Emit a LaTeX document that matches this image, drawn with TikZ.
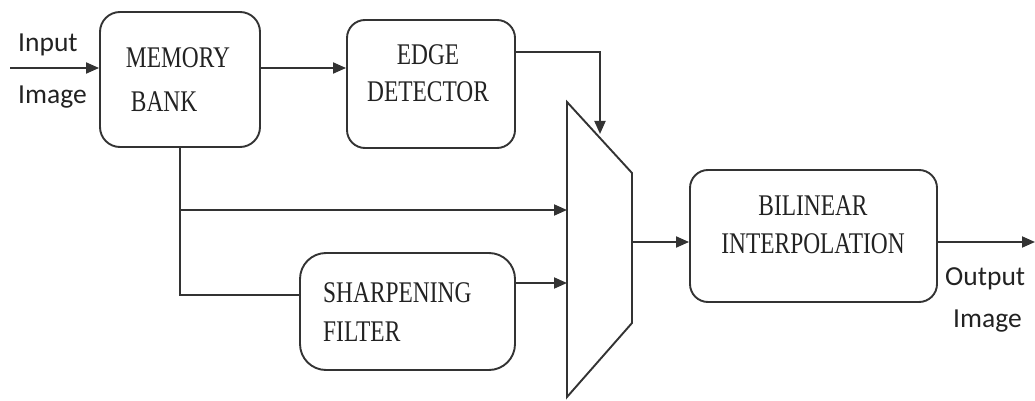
\documentclass[tikz,border=0pt]{standalone}
\usepackage{fontspec}
\setmainfont{Liberation Serif}
\newfontfamily\boxfont[FakeStretch=0.78]{Liberation Serif}
\newfontfamily\labfont{Carlito}
\usetikzlibrary{arrows.meta}
\definecolor{ln}{HTML}{333333}
\definecolor{tx}{HTML}{222222}
\tikzset{
  blk/.style={draw=ln, line width=1.9pt, rounded corners=20pt, inner sep=0pt},
  btext/.style={inner sep=0pt, text=tx, font=\boxfont\fontsize{30}{38}\selectfont},
  lab/.style={inner sep=0pt, text=tx, font=\labfont\fontsize{27.5}{33}\selectfont},
  wire/.style={draw=ln, line width=1.9pt},
  arr/.style={wire, -{Triangle[length=13pt,width=11pt]}}
}
\begin{document}
\begin{tikzpicture}[x=1pt,y=-1pt]
\useasboundingbox (0,0) rectangle (1035,401);
% boxes
\node[blk, minimum width=160pt, minimum height=135pt] (mem) at (180,79.5) {};
\node[blk, minimum width=168pt, minimum height=128pt, rounded corners=18pt] (edge) at (431,84) {};
\node[blk, minimum width=215pt, minimum height=117pt, rounded corners=26pt] (sharp) at (407.5,311.5) {};
\node[blk, minimum width=247pt, minimum height=132pt, rounded corners=18pt] (bil) at (813.5,236) {};
% box texts
\node[btext, align=left, font=\boxfont\fontsize{30}{44}\selectfont] (memt) at (178,79.5) {MEMORY\\\hspace{5pt}BANK};
\node[btext, align=center, font=\boxfont\fontsize{30}{37}\selectfont] (edget) at (428,73.5) {EDGE\\DETECTOR};
\node[btext, align=center] (bilt) at (813,225) {BILINEAR\\INTERPOLATION};
\node[btext, align=left, anchor=west, font=\boxfont\fontsize{30}{39}\selectfont] (sharpt) at (323,312) {SHARPENING\\FILTER};
% multiplexer
\coordinate (mA) at (567,102);
\coordinate (mB) at (632,173);
\coordinate (mC) at (632,323);
\coordinate (mD) at (567,397);
\draw[wire, line join=miter] (mA) -- (mB) -- (mC) -- (mD) -- cycle;
\coordinate (mux1) at (600,134);
% labels
\node[lab, anchor=base west] (inl) at (18,52) {Input};
\node[lab, anchor=base west] (inl2) at (18,103) {Image};
\node[lab, anchor=base west] (outl) at (945,285) {Output};
\node[lab, anchor=base west] (outl2) at (953,327) {Image};
% connectors
\coordinate (in) at (10,68);
\coordinate (out) at (1035,242);
\coordinate (br1) at (180,210);
\coordinate (br2) at (180,295);
\draw[arr] (in) -- (in -| mem.west);
\draw[arr] (mem.east |- in) -- (edge.west |- in);
\draw[arr] (edge.east |- 0,52) -| (mux1);
\draw[wire] (mem.south -| br1) -- (br2) -- (sharp.west |- br2);
\draw[arr] (br1) -- (br1 -| mA);
\draw[arr] (sharp.east |- 0,283) -- (mA |- 0,283);
\draw[arr] (mB |- 0,242) -- (bil.west |- 0,242);
\draw[arr] (bil.east |- out) -- (out);
\end{tikzpicture}
\end{document}
